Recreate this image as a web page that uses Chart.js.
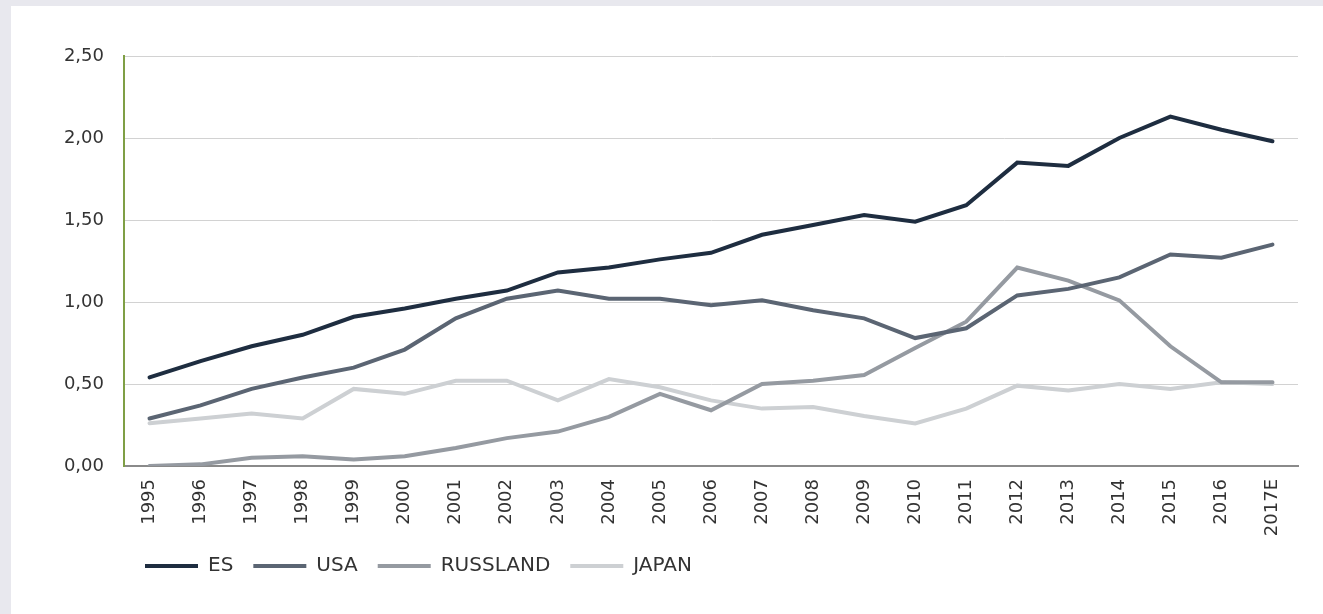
<!DOCTYPE html>
<html>
<head>
<meta charset="utf-8">
<script src="https://cdn.jsdelivr.net/npm/chart.js@4/dist/chart.umd.min.js"></script>
<style>
  html, body { margin: 0; padding: 0; background: #e8e8ee; }
  #panel { position: absolute; left: 11px; top: 6px; width: 1312px; height: 608px; background: #fff; }
  #grafico { display: block; }
</style>
</head>
<body>
<div id="panel"><canvas id="grafico" width="1312" height="608"></canvas></div>
<script>
// Datos
const anios = ['1995', '1996', '1997', '1998', '1999', '2000', '2001', '2002', '2003', '2004', '2005',
  '2006', '2007', '2008', '2009', '2010', '2011', '2012', '2013', '2014', '2015', '2016', '2017E'];
const es = [0.54, 0.64, 0.73, 0.80, 0.91, 0.96, 1.02, 1.07, 1.18, 1.21, 1.26,
  1.30, 1.41, 1.47, 1.53, 1.49, 1.59, 1.85, 1.83, 2.00, 2.13, 2.05, 1.98];
const usa = [0.29, 0.37, 0.47, 0.54, 0.60, 0.71, 0.90, 1.02, 1.07, 1.02, 1.02,
  0.98, 1.01, 0.95, 0.90, 0.78, 0.84, 1.04, 1.08, 1.15, 1.29, 1.27, 1.35];
const russland = [0.00, 0.01, 0.05, 0.06, 0.04, 0.06, 0.11, 0.17, 0.21, 0.30, 0.44,
  0.34, 0.50, 0.52, 0.555, 0.72, 0.88, 1.21, 1.13, 1.01, 0.73, 0.51, 0.51];
const japan = [0.26, 0.29, 0.32, 0.29, 0.47, 0.44, 0.52, 0.52, 0.40, 0.53, 0.48,
  0.40, 0.35, 0.36, 0.305, 0.26, 0.35, 0.49, 0.46, 0.50, 0.47, 0.51, 0.50];
const etiquetasY = ['0,00', '0,50', '1,00', '1,50', '2,00', '2,50'];

const fuente = '"DejaVu Sans", sans-serif';

function serie(nombre, datos, color) {
  return {
    label: nombre,
    data: datos,
    borderColor: color,
    backgroundColor: color,
    borderWidth: 4,
    borderCapStyle: 'round',
    borderJoinStyle: 'miter',
    pointRadius: 0,
    tension: 0,
    fill: false
  };
}

// Mover la leyenda para que empiece debajo del eje
const moverLeyenda = {
  id: 'moverLeyenda',
  afterLayout(chart) {
    chart.legend.left = chart.chartArea.left + 1;
  }
};

const grafico = new Chart(document.getElementById('grafico'), {
  type: 'line',
  data: {
    labels: anios,
    datasets: [
      serie('ES', es, '#1e2d40'),
      serie('USA', usa, '#5b6573'),
      serie('RUSSLAND', russland, '#959aa1'),
      serie('JAPAN', japan, '#cdd0d3')
    ]
  },
  options: {
    responsive: false,
    animation: false,
    layout: { padding: { top: 50, right: 25, left: 0, bottom: 28 } },
    plugins: {
      tooltip: { enabled: false },
      legend: {
        position: 'bottom',
        align: 'start',
        labels: {
          usePointStyle: true,
          pointStyle: 'line',
          pointStyleWidth: 53,
          padding: 20,
          color: '#333',
          font: { family: fuente, size: 20 }
        }
      }
    },
    scales: {
      x: {
        offset: true,
        grid: { display: false, drawTicks: false },
        border: { color: '#8a8a8a', width: 2 },
        ticks: {
          color: '#333',
          font: { family: fuente, size: 18 },
          maxRotation: 90,
          minRotation: 90,
          padding: 13,
          autoSkip: false
        },
        afterFit(scale) { scale.height = 70; }
      },
      y: {
        min: 0,
        max: 2.5,
        grid: { color: '#d2d2d2', lineWidth: 1, drawTicks: false },
        border: { color: '#7f9f45', width: 2 },
        ticks: {
          stepSize: 0.5,
          padding: 20,
          color: '#333',
          font: { family: fuente, size: 18 },
          callback: (v, i) => etiquetasY[i]
        },
        afterFit(scale) { scale.width = 113; }
      }
    }
  },
  plugins: [moverLeyenda]
});
</script>
</body>
</html>
